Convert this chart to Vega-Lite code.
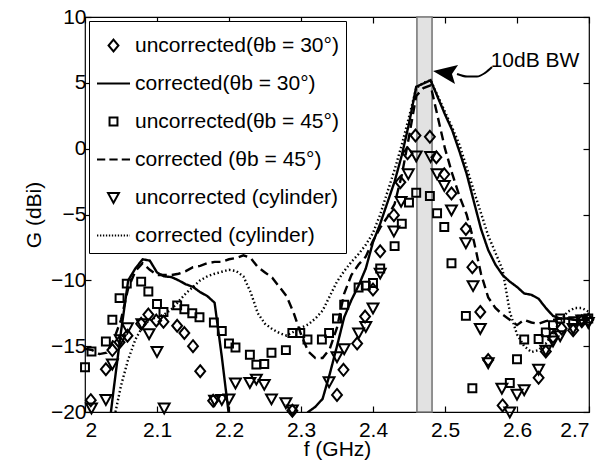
{
  "$schema": "https://vega.github.io/schema/vega-lite/v6.json",
  "width": 504,
  "height": 395,
  "autosize": {"type": "none"},
  "padding": {"left": 85, "top": 17, "right": 24, "bottom": 54},
  "background": "white",
  "config": {
    "font": "Liberation Sans",
    "view": {"stroke": "black", "strokeWidth": 1.2},
    "axis": {"grid": false, "domain": false, "tickColor": "black", "tickSize": -6, "tickWidth": 1.2, "labelColor": "black", "labelFontSize": 21, "titleFontSize": 21, "titleFontWeight": "normal", "titleColor": "black", "labelFont": "Liberation Sans", "titleFont": "Liberation Sans"},
    "legend": {"orient": "top-left", "offset": 4, "padding": 7, "strokeColor": "black", "fillColor": "white", "rowPadding": 10, "symbolSize": 1089, "symbolStrokeWidth": 2, "symbolStrokeColor": "black", "symbolFillColor": "transparent", "labelFontSize": 21, "labelOffset": 4, "labelFont": "Liberation Sans", "labelColor": "black", "labelLimit": 400}
  },
  "datasets": {
    "lns": [
      {"s":"c30","f":2.03,"G":-22.7},{"s":"c30","f":2.04,"G":-18.2},{"s":"c30","f":2.05,"G":-13.9},{"s":"c30","f":2.06,"G":-10.0},{"s":"c30","f":2.07,"G":-9.1},{"s":"c30","f":2.08,"G":-8.4},{"s":"c30","f":2.09,"G":-8.5},{"s":"c30","f":2.10,"G":-9.4},{"s":"c30","f":2.11,"G":-9.7},{"s":"c30","f":2.12,"G":-9.75},{"s":"c30","f":2.13,"G":-10.0},{"s":"c30","f":2.14,"G":-10.3},{"s":"c30","f":2.15,"G":-10.5},{"s":"c30","f":2.16,"G":-10.9},{"s":"c30","f":2.17,"G":-11.2},{"s":"c30","f":2.18,"G":-11.7},{"s":"c30","f":2.19,"G":-15.8},{"s":"c30","f":2.20,"G":-20.3},{"s":"c30","f":2.21,"G":-24.5},{"s":"c30","f":2.29,"G":-24.0},{"s":"c30","f":2.30,"G":-20.6},{"s":"c30","f":2.31,"G":-20.0},{"s":"c30","f":2.32,"G":-19.6},{"s":"c30","f":2.33,"G":-19.0},{"s":"c30","f":2.34,"G":-17.1},{"s":"c30","f":2.35,"G":-15.0},{"s":"c30","f":2.36,"G":-12.8},{"s":"c30","f":2.37,"G":-11.5},{"s":"c30","f":2.38,"G":-10.4},{"s":"c30","f":2.39,"G":-9.1},{"s":"c30","f":2.40,"G":-7.1},{"s":"c30","f":2.41,"G":-5.7},{"s":"c30","f":2.42,"G":-4.1},{"s":"c30","f":2.43,"G":-2.5},{"s":"c30","f":2.44,"G":-0.5},{"s":"c30","f":2.45,"G":1.9},{"s":"c30","f":2.46,"G":4.7},{"s":"c30","f":2.47,"G":4.95},{"s":"c30","f":2.48,"G":5.2},{"s":"c30","f":2.49,"G":3.9},{"s":"c30","f":2.50,"G":2.6},{"s":"c30","f":2.51,"G":1.4},{"s":"c30","f":2.52,"G":-0.2},{"s":"c30","f":2.53,"G":-1.9},{"s":"c30","f":2.54,"G":-4.0},{"s":"c30","f":2.55,"G":-6.1},{"s":"c30","f":2.56,"G":-7.7},{"s":"c30","f":2.57,"G":-8.8},{"s":"c30","f":2.58,"G":-9.6},{"s":"c30","f":2.59,"G":-10.1},{"s":"c30","f":2.60,"G":-10.5},{"s":"c30","f":2.61,"G":-11.0},{"s":"c30","f":2.62,"G":-11.1},{"s":"c30","f":2.63,"G":-11.4},{"s":"c30","f":2.64,"G":-12.1},{"s":"c30","f":2.65,"G":-12.7},{"s":"c30","f":2.66,"G":-12.9},{"s":"c30","f":2.67,"G":-12.9},{"s":"c30","f":2.68,"G":-13.0},{"s":"c30","f":2.69,"G":-13.0},{"s":"c30","f":2.70,"G":-12.9},
      {"s":"c45","f":2.00,"G":-15.2},{"s":"c45","f":2.01,"G":-15.3},{"s":"c45","f":2.02,"G":-15.6},{"s":"c45","f":2.03,"G":-15.5},{"s":"c45","f":2.04,"G":-14.5},{"s":"c45","f":2.05,"G":-13.0},{"s":"c45","f":2.06,"G":-10.6},{"s":"c45","f":2.07,"G":-9.3},{"s":"c45","f":2.08,"G":-8.7},{"s":"c45","f":2.09,"G":-9.2},{"s":"c45","f":2.10,"G":-9.6},{"s":"c45","f":2.11,"G":-9.6},{"s":"c45","f":2.12,"G":-9.6},{"s":"c45","f":2.13,"G":-9.5},{"s":"c45","f":2.14,"G":-9.3},{"s":"c45","f":2.15,"G":-9.0},{"s":"c45","f":2.16,"G":-8.9},{"s":"c45","f":2.17,"G":-8.7},{"s":"c45","f":2.18,"G":-8.6},{"s":"c45","f":2.19,"G":-8.6},{"s":"c45","f":2.20,"G":-8.4},{"s":"c45","f":2.21,"G":-8.3},{"s":"c45","f":2.22,"G":-8.1},{"s":"c45","f":2.23,"G":-8.3},{"s":"c45","f":2.24,"G":-9.0},{"s":"c45","f":2.25,"G":-9.4},{"s":"c45","f":2.26,"G":-9.8},{"s":"c45","f":2.27,"G":-10.5},{"s":"c45","f":2.28,"G":-11.2},{"s":"c45","f":2.29,"G":-12.5},{"s":"c45","f":2.30,"G":-14.1},{"s":"c45","f":2.31,"G":-15.4},{"s":"c45","f":2.32,"G":-15.9},{"s":"c45","f":2.33,"G":-15.9},{"s":"c45","f":2.34,"G":-15.2},{"s":"c45","f":2.35,"G":-13.6},{"s":"c45","f":2.36,"G":-11.0},{"s":"c45","f":2.37,"G":-9.6},{"s":"c45","f":2.38,"G":-8.8},{"s":"c45","f":2.39,"G":-8.2},{"s":"c45","f":2.40,"G":-7.0},{"s":"c45","f":2.41,"G":-6.0},{"s":"c45","f":2.42,"G":-5.2},{"s":"c45","f":2.43,"G":-4.2},{"s":"c45","f":2.44,"G":-2.0},{"s":"c45","f":2.45,"G":0.9},{"s":"c45","f":2.46,"G":4.0},{"s":"c45","f":2.47,"G":4.6},{"s":"c45","f":2.48,"G":4.8},{"s":"c45","f":2.49,"G":2.4},{"s":"c45","f":2.50,"G":0.0},{"s":"c45","f":2.51,"G":-1.9},{"s":"c45","f":2.52,"G":-3.6},{"s":"c45","f":2.53,"G":-5.0},{"s":"c45","f":2.54,"G":-7.0},{"s":"c45","f":2.55,"G":-9.5},{"s":"c45","f":2.56,"G":-11.3},{"s":"c45","f":2.57,"G":-12.1},{"s":"c45","f":2.58,"G":-12.6},{"s":"c45","f":2.59,"G":-13.0},{"s":"c45","f":2.60,"G":-13.4},{"s":"c45","f":2.61,"G":-13.0},{"s":"c45","f":2.62,"G":-13.2},{"s":"c45","f":2.63,"G":-13.3},{"s":"c45","f":2.64,"G":-13.1},{"s":"c45","f":2.65,"G":-13.0},{"s":"c45","f":2.66,"G":-12.9},{"s":"c45","f":2.67,"G":-12.9},{"s":"c45","f":2.68,"G":-13.0},{"s":"c45","f":2.69,"G":-13.0},{"s":"c45","f":2.70,"G":-13.0},
      {"s":"ccyl","f":2.04,"G":-20.6},{"s":"ccyl","f":2.05,"G":-18.0},{"s":"ccyl","f":2.06,"G":-16.0},{"s":"ccyl","f":2.07,"G":-14.5},{"s":"ccyl","f":2.08,"G":-13.5},{"s":"ccyl","f":2.09,"G":-13.0},{"s":"ccyl","f":2.10,"G":-12.8},{"s":"ccyl","f":2.11,"G":-12.6},{"s":"ccyl","f":2.12,"G":-12.2},{"s":"ccyl","f":2.13,"G":-11.6},{"s":"ccyl","f":2.14,"G":-11.0},{"s":"ccyl","f":2.15,"G":-10.5},{"s":"ccyl","f":2.16,"G":-10.0},{"s":"ccyl","f":2.17,"G":-9.7},{"s":"ccyl","f":2.18,"G":-9.5},{"s":"ccyl","f":2.19,"G":-9.35},{"s":"ccyl","f":2.20,"G":-9.2},{"s":"ccyl","f":2.21,"G":-9.3},{"s":"ccyl","f":2.22,"G":-9.7},{"s":"ccyl","f":2.23,"G":-10.9},{"s":"ccyl","f":2.24,"G":-12.5},{"s":"ccyl","f":2.25,"G":-13.3},{"s":"ccyl","f":2.26,"G":-13.7},{"s":"ccyl","f":2.27,"G":-14.0},{"s":"ccyl","f":2.28,"G":-14.2},{"s":"ccyl","f":2.29,"G":-13.9},{"s":"ccyl","f":2.30,"G":-13.6},{"s":"ccyl","f":2.31,"G":-13.35},{"s":"ccyl","f":2.32,"G":-12.9},{"s":"ccyl","f":2.33,"G":-12.3},{"s":"ccyl","f":2.34,"G":-11.2},{"s":"ccyl","f":2.35,"G":-10.1},{"s":"ccyl","f":2.36,"G":-9.3},{"s":"ccyl","f":2.37,"G":-8.6},{"s":"ccyl","f":2.38,"G":-8.0},{"s":"ccyl","f":2.39,"G":-7.3},{"s":"ccyl","f":2.40,"G":-6.4},{"s":"ccyl","f":2.41,"G":-5.0},{"s":"ccyl","f":2.42,"G":-3.3},{"s":"ccyl","f":2.43,"G":-1.6},{"s":"ccyl","f":2.44,"G":0.3},{"s":"ccyl","f":2.45,"G":2.4},{"s":"ccyl","f":2.46,"G":4.6},{"s":"ccyl","f":2.47,"G":5.0},{"s":"ccyl","f":2.48,"G":5.2},{"s":"ccyl","f":2.49,"G":4.0},{"s":"ccyl","f":2.50,"G":2.8},{"s":"ccyl","f":2.51,"G":1.6},{"s":"ccyl","f":2.52,"G":0.3},{"s":"ccyl","f":2.53,"G":-1.4},{"s":"ccyl","f":2.54,"G":-3.2},{"s":"ccyl","f":2.55,"G":-4.9},{"s":"ccyl","f":2.56,"G":-6.6},{"s":"ccyl","f":2.57,"G":-7.9},{"s":"ccyl","f":2.58,"G":-9.2},{"s":"ccyl","f":2.59,"G":-12.4},{"s":"ccyl","f":2.60,"G":-14.1},{"s":"ccyl","f":2.61,"G":-15.0},{"s":"ccyl","f":2.62,"G":-15.45},{"s":"ccyl","f":2.63,"G":-15.3},{"s":"ccyl","f":2.64,"G":-14.8},{"s":"ccyl","f":2.65,"G":-14.0},{"s":"ccyl","f":2.66,"G":-13.1},{"s":"ccyl","f":2.67,"G":-12.4},{"s":"ccyl","f":2.68,"G":-12.1},{"s":"ccyl","f":2.69,"G":-12.1},{"s":"ccyl","f":2.70,"G":-12.4}
    ],
    "pts": [
      {"s":"u30","f":2.008,"G":-19.1},{"s":"u30","f":2.029,"G":-16.75},{"s":"u30","f":2.038,"G":-15.3},{"s":"u30","f":2.048,"G":-14.7},{"s":"u30","f":2.059,"G":-14.2},{"s":"u30","f":2.078,"G":-13.3},{"s":"u30","f":2.088,"G":-12.6},{"s":"u30","f":2.099,"G":-13.05},{"s":"u30","f":2.109,"G":-13.15},{"s":"u30","f":2.128,"G":-13.45},{"s":"u30","f":2.138,"G":-14.0},{"s":"u30","f":2.15,"G":-15.0},{"s":"u30","f":2.16,"G":-16.9},{"s":"u30","f":2.178,"G":-19.15},{"s":"u30","f":2.288,"G":-19.9},{"s":"u30","f":2.35,"G":-18.7},{"s":"u30","f":2.359,"G":-16.8},{"s":"u30","f":2.378,"G":-14.8},{"s":"u30","f":2.389,"G":-12.75},{"s":"u30","f":2.4,"G":-10.7},{"s":"u30","f":2.41,"G":-7.8},{"s":"u30","f":2.429,"G":-5.05},{"s":"u30","f":2.438,"G":-2.55},{"s":"u30","f":2.448,"G":-0.35},{"s":"u30","f":2.459,"G":1.0},{"s":"u30","f":2.479,"G":0.9},{"s":"u30","f":2.488,"G":-0.65},{"s":"u30","f":2.499,"G":-1.95},{"s":"u30","f":2.509,"G":-3.4},{"s":"u30","f":2.529,"G":-6.1},{"s":"u30","f":2.538,"G":-9.0},{"s":"u30","f":2.549,"G":-12.4},{"s":"u30","f":2.56,"G":-16.05},{"s":"u30","f":2.58,"G":-19.5},{"s":"u30","f":2.63,"G":-17.4},{"s":"u30","f":2.64,"G":-15.4},{"s":"u30","f":2.65,"G":-14.3},{"s":"u30","f":2.662,"G":-13.65},{"s":"u30","f":2.678,"G":-13.8},{"s":"u30","f":2.69,"G":-13.1},{"s":"u30","f":2.699,"G":-13.0},
      {"s":"u45","f":2.0,"G":-16.6},{"s":"u45","f":2.009,"G":-15.4},{"s":"u45","f":2.029,"G":-14.65},{"s":"u45","f":2.038,"G":-13.0},{"s":"u45","f":2.048,"G":-11.35},{"s":"u45","f":2.058,"G":-10.25},{"s":"u45","f":2.078,"G":-10.1},{"s":"u45","f":2.088,"G":-10.85},{"s":"u45","f":2.1,"G":-11.8},{"s":"u45","f":2.109,"G":-12.4},{"s":"u45","f":2.128,"G":-11.9},{"s":"u45","f":2.138,"G":-12.2},{"s":"u45","f":2.149,"G":-12.5},{"s":"u45","f":2.159,"G":-12.8},{"s":"u45","f":2.179,"G":-13.2},{"s":"u45","f":2.19,"G":-13.85},{"s":"u45","f":2.2,"G":-14.8},{"s":"u45","f":2.209,"G":-15.1},{"s":"u45","f":2.229,"G":-15.65},{"s":"u45","f":2.238,"G":-16.4},{"s":"u45","f":2.249,"G":-16.35},{"s":"u45","f":2.259,"G":-15.5},{"s":"u45","f":2.279,"G":-15.3},{"s":"u45","f":2.288,"G":-14.0},{"s":"u45","f":2.299,"G":-14.0},{"s":"u45","f":2.309,"G":-14.5},{"s":"u45","f":2.329,"G":-14.5},{"s":"u45","f":2.339,"G":-14.0},{"s":"u45","f":2.35,"G":-12.9},{"s":"u45","f":2.36,"G":-11.85},{"s":"u45","f":2.38,"G":-10.55},{"s":"u45","f":2.39,"G":-10.4},{"s":"u45","f":2.4,"G":-10.2},{"s":"u45","f":2.41,"G":-9.1},{"s":"u45","f":2.43,"G":-7.4},{"s":"u45","f":2.44,"G":-5.7},{"s":"u45","f":2.45,"G":-4.1},{"s":"u45","f":2.46,"G":-3.35},{"s":"u45","f":2.479,"G":-3.6},{"s":"u45","f":2.489,"G":-4.9},{"s":"u45","f":2.499,"G":-5.95},{"s":"u45","f":2.509,"G":-8.7},{"s":"u45","f":2.529,"G":-12.7},{"s":"u45","f":2.538,"G":-18.2},{"s":"u45","f":2.59,"G":-17.8},{"s":"u45","f":2.6,"G":-16.0},{"s":"u45","f":2.61,"G":-14.5},{"s":"u45","f":2.63,"G":-14.45},{"s":"u45","f":2.64,"G":-13.95},{"s":"u45","f":2.65,"G":-13.4},{"s":"u45","f":2.66,"G":-12.9},{"s":"u45","f":2.678,"G":-13.1},{"s":"u45","f":2.69,"G":-13.0},{"s":"u45","f":2.699,"G":-12.9},
      {"s":"ucyl","f":2.009,"G":-19.7},{"s":"ucyl","f":2.029,"G":-19.05},{"s":"ucyl","f":2.038,"G":-16.35},{"s":"ucyl","f":2.049,"G":-14.5},{"s":"ucyl","f":2.059,"G":-13.6},{"s":"ucyl","f":2.079,"G":-13.3},{"s":"ucyl","f":2.089,"G":-14.05},{"s":"ucyl","f":2.1,"G":-15.4},{"s":"ucyl","f":2.11,"G":-19.7},{"s":"ucyl","f":2.18,"G":-19.1},{"s":"ucyl","f":2.19,"G":-19.05},{"s":"ucyl","f":2.2,"G":-19.0},{"s":"ucyl","f":2.209,"G":-17.8},{"s":"ucyl","f":2.229,"G":-17.75},{"s":"ucyl","f":2.238,"G":-17.5},{"s":"ucyl","f":2.249,"G":-17.9},{"s":"ucyl","f":2.259,"G":-19.0},{"s":"ucyl","f":2.279,"G":-19.3},{"s":"ucyl","f":2.288,"G":-19.85},{"s":"ucyl","f":2.339,"G":-17.7},{"s":"ucyl","f":2.35,"G":-15.8},{"s":"ucyl","f":2.36,"G":-15.2},{"s":"ucyl","f":2.38,"G":-14.0},{"s":"ucyl","f":2.39,"G":-13.5},{"s":"ucyl","f":2.4,"G":-12.1},{"s":"ucyl","f":2.41,"G":-9.45},{"s":"ucyl","f":2.429,"G":-6.25},{"s":"ucyl","f":2.439,"G":-4.0},{"s":"ucyl","f":2.449,"G":-1.9},{"s":"ucyl","f":2.46,"G":-0.55},{"s":"ucyl","f":2.48,"G":-0.6},{"s":"ucyl","f":2.489,"G":-1.9},{"s":"ucyl","f":2.499,"G":-2.8},{"s":"ucyl","f":2.509,"G":-4.65},{"s":"ucyl","f":2.529,"G":-7.15},{"s":"ucyl","f":2.539,"G":-10.4},{"s":"ucyl","f":2.549,"G":-13.65},{"s":"ucyl","f":2.56,"G":-16.25},{"s":"ucyl","f":2.579,"G":-18.2},{"s":"ucyl","f":2.59,"G":-20.0},{"s":"ucyl","f":2.6,"G":-18.65},{"s":"ucyl","f":2.61,"G":-18.3},{"s":"ucyl","f":2.63,"G":-16.75},{"s":"ucyl","f":2.64,"G":-15.3},{"s":"ucyl","f":2.65,"G":-14.6},{"s":"ucyl","f":2.66,"G":-14.2},{"s":"ucyl","f":2.678,"G":-13.65},{"s":"ucyl","f":2.69,"G":-13.0},{"s":"ucyl","f":2.699,"G":-13.2}
    ]
  },
  "layer": [
    {
      "data": {"values": [{"a": 2.461, "b": 2.482}]},
      "mark": {"type": "rect", "fill": "#e2e2e2", "stroke": "#7a7a7a", "strokeWidth": 1.6},
      "encoding": {
        "x": {"field": "a", "type": "quantitative", "scale": {"domain": [2, 2.7], "nice": false, "zero": false}, "axis": {"orient": "top", "labels": false, "title": null, "values": [2, 2.1, 2.2, 2.3, 2.4, 2.5, 2.6, 2.7]}},
        "x2": {"field": "b"},
        "y": {"datum": 10, "type": "quantitative", "scale": {"domain": [-20, 10], "nice": false, "zero": false}, "axis": {"orient": "right", "labels": false, "title": null, "values": [-20, -15, -10, -5, 0, 5, 10]}},
        "y2": {"datum": -20}
      }
    },
    {
      "data": {"name": "lns"},
      "mark": {"type": "line", "clip": true, "strokeWidth": 2.4, "color": "black"},
      "encoding": {
        "x": {"field": "f", "type": "quantitative", "axis": {"orient": "bottom", "title": "f (GHz)", "values": [2, 2.1, 2.2, 2.3, 2.4, 2.5, 2.6, 2.7], "format": "~g", "labelPadding": 13, "titlePadding": -2}},
        "y": {"field": "G", "type": "quantitative", "axis": {"orient": "left", "title": "G (dBi)", "values": [-20, -15, -10, -5, 0, 5, 10], "labelPadding": 5, "titlePadding": 6}},
        "detail": {"field": "s"},
        "strokeDash": {"field": "s", "type": "nominal", "legend": null, "scale": {"domain": ["c30", "c45", "ccyl"], "range": [[1, 0], [9, 5], [1.5, 2.5]]}}
      }
    },
    {
      "data": {"name": "pts"},
      "mark": {"type": "point", "filled": false, "size": 1089, "strokeWidth": 2, "color": "black", "opacity": 1},
      "encoding": {
        "x": {"field": "f", "type": "quantitative", "axis": null},
        "y": {"field": "G", "type": "quantitative", "axis": null},
        "shape": {"field": "s", "type": "nominal", "scale": {"domain": ["u30", "c30", "u45", "c45", "ucyl", "ccyl"], "range": ["M0,-0.36L0.3,0L0,0.36L-0.3,0Z", "M-1,0H1", "M-0.24,-0.24H0.24V0.24H-0.24Z", "M-1,0H-0.5M-0.25,0H0.25M0.5,0H1", "M-0.33,-0.27H0.33L0,0.33Z", "M-1,0H-0.92M-0.82,0H-0.74M-0.64,0H-0.56M-0.46,0H-0.38M-0.28,0H-0.2M-0.1,0H-0.02M0.08,0H0.16M0.26,0H0.34M0.44,0H0.52M0.62,0H0.7M0.8,0H0.88M0.98,0H1"]}, "legend": {"title": null, "labelExpr": "{'u30': 'uncorrected(θb = 30°)', 'c30': 'corrected(θb = 30°)', 'u45': 'uncorrected(θb = 45°)', 'c45': 'corrected (θb = 45°)', 'ucyl': 'uncorrected (cylinder)', 'ccyl': 'corrected (cylinder)'}[datum.label]"}}
      }
    },
    {
      "data": {"values": [{"f": 2.5653, "G": 6.2}, {"f": 2.5556, "G": 5.75}, {"f": 2.5444, "G": 5.48}, {"f": 2.5306, "G": 5.48}, {"f": 2.5167, "G": 5.67}]},
      "mark": {"type": "line", "color": "black", "strokeWidth": 2, "interpolate": "monotone"},
      "encoding": {
        "x": {"field": "f", "type": "quantitative", "axis": null},
        "y": {"field": "G", "type": "quantitative", "axis": null}
      }
    },
    {
      "data": {"values": [{"f": 2.5028, "G": 5.67}]},
      "mark": {"type": "point", "filled": true, "size": 1024, "color": "black", "opacity": 1, "shape": "M-0.875,-0.19L0.69,-0.56L0.31,0L0.5,0.625Z"},
      "encoding": {
        "x": {"field": "f", "type": "quantitative", "axis": null},
        "y": {"field": "G", "type": "quantitative", "axis": null}
      }
    },
    {
      "data": {"values": [{"f": 2.625, "G": 6.66, "t": "10dB BW"}]},
      "mark": {"type": "text", "fontSize": 21, "font": "Liberation Sans", "color": "black", "align": "center", "baseline": "middle"},
      "encoding": {
        "x": {"field": "f", "type": "quantitative", "axis": null},
        "y": {"field": "G", "type": "quantitative", "axis": null},
        "text": {"field": "t"}
      }
    }
  ],
  "resolve": {"axis": {"x": "independent", "y": "independent"}}
}
